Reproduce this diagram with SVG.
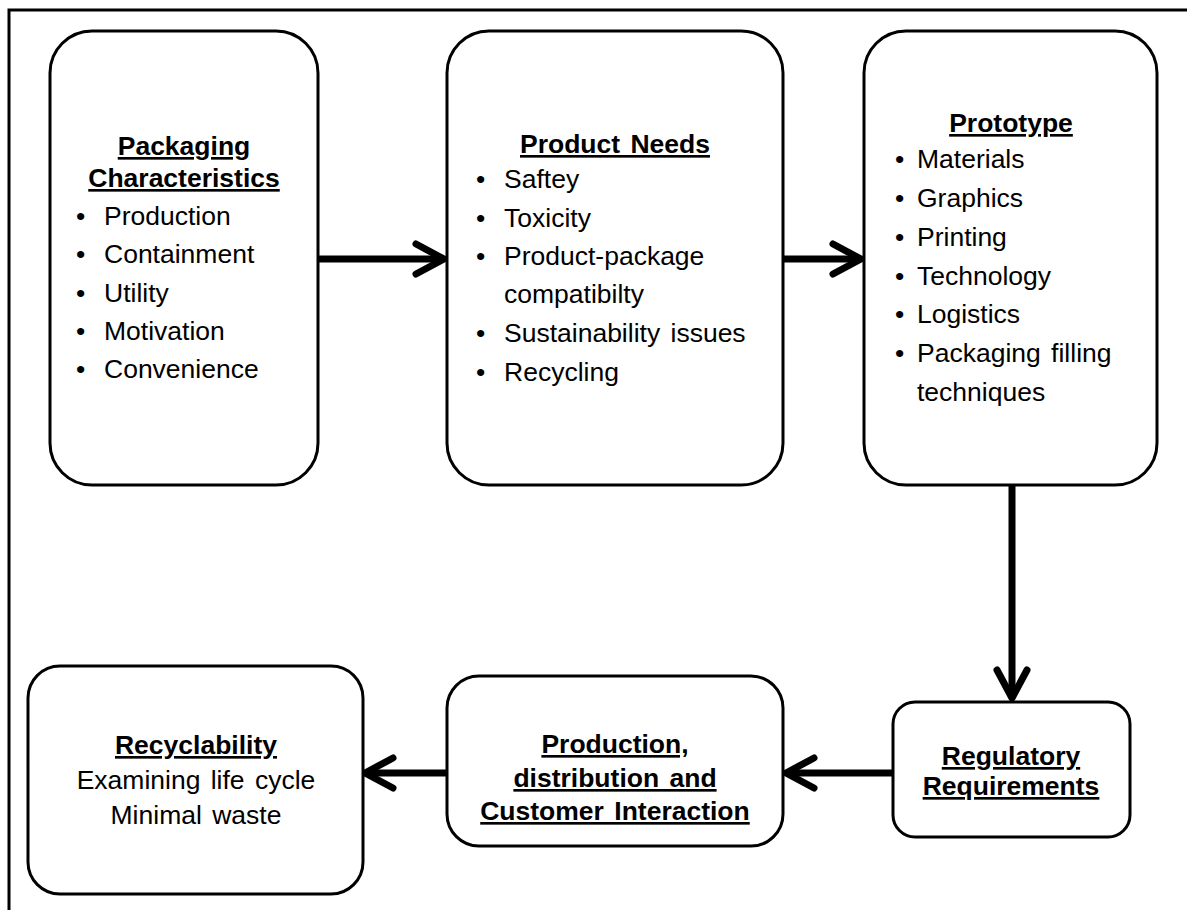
<svg xmlns="http://www.w3.org/2000/svg" width="1187" height="910" viewBox="0 0 1187 910">
  <style>
    .box { fill: #ffffff; stroke: #000000; stroke-width: 3; }
    .t { font-family: "Liberation Sans", Arial, sans-serif; font-size: 26.5px; fill: #000000; word-spacing: 3px; }
    .h { font-weight: bold; text-decoration: underline; text-anchor: middle; }
    .c { text-anchor: middle; }
    .conn { fill: none; stroke: #000000; stroke-width: 7; }
  </style>
  <defs>
    <marker id="chev" markerUnits="userSpaceOnUse" markerWidth="60" markerHeight="60" refX="0" refY="0" viewBox="-40 -30 60 60" orient="auto" overflow="visible">
      <path d="M -28 -15 L 0 0 L -28 15" fill="none" stroke="#000000" stroke-width="7" stroke-linecap="round" stroke-linejoin="round"/>
    </marker>
  </defs>
  <rect x="0" y="0" width="1187" height="910" fill="#ffffff"/>
  <rect id="frame" x="9" y="10" width="1220" height="960" fill="none" stroke="#000000" stroke-width="3"/>

  <g id="connectors">
    <path class="conn" d="M318 259 H444" marker-end="url(#chev)"/>
    <path class="conn" d="M783 259 H861" marker-end="url(#chev)"/>
    <path class="conn" d="M1012 485 V698" marker-end="url(#chev)"/>
    <path class="conn" d="M893 773 H786" marker-end="url(#chev)"/>
    <path class="conn" d="M447 773 H365" marker-end="url(#chev)"/>
  </g>

  <g id="packaging-characteristics">
    <rect class="box" x="50" y="31" width="268" height="454" rx="42"/>
    <text class="t h" x="184" y="155">Packaging</text>
    <text class="t h" x="184" y="187">Characteristics</text>
    <text class="t" x="76" y="225">•</text><text class="t" x="104" y="225">Production</text>
    <text class="t" x="76" y="263">•</text><text class="t" x="104" y="263">Containment</text>
    <text class="t" x="76" y="302">•</text><text class="t" x="104" y="302">Utility</text>
    <text class="t" x="76" y="340">•</text><text class="t" x="104" y="340">Motivation</text>
    <text class="t" x="76" y="378">•</text><text class="t" x="104" y="378">Convenience</text>
  </g>

  <g id="product-needs">
    <rect class="box" x="447" y="31" width="336" height="454" rx="42"/>
    <text class="t h" x="615" y="153">Product Needs</text>
    <text class="t" x="476" y="188">•</text><text class="t" x="504" y="188">Saftey</text>
    <text class="t" x="476" y="227">•</text><text class="t" x="504" y="227">Toxicity</text>
    <text class="t" x="476" y="265">•</text><text class="t" x="504" y="265">Product-package</text>
    <text class="t" x="504" y="303">compatibilty</text>
    <text class="t" x="476" y="342">•</text><text class="t" x="504" y="342">Sustainability issues</text>
    <text class="t" x="476" y="381">•</text><text class="t" x="504" y="381">Recycling</text>
  </g>

  <g id="prototype">
    <rect class="box" x="864" y="31" width="293" height="454" rx="42"/>
    <text class="t h" x="1011" y="132">Prototype</text>
    <text class="t" x="895" y="168">•</text><text class="t" x="917" y="168">Materials</text>
    <text class="t" x="895" y="207">•</text><text class="t" x="917" y="207">Graphics</text>
    <text class="t" x="895" y="246">•</text><text class="t" x="917" y="246">Printing</text>
    <text class="t" x="895" y="285">•</text><text class="t" x="917" y="285">Technology</text>
    <text class="t" x="895" y="323">•</text><text class="t" x="917" y="323">Logistics</text>
    <text class="t" x="895" y="362">•</text><text class="t" x="917" y="362">Packaging filling</text>
    <text class="t" x="917" y="401">techniques</text>
  </g>

  <g id="regulatory-requirements">
    <rect class="box" x="893" y="702" width="237" height="135" rx="22"/>
    <text class="t h" x="1011" y="765">Regulatory</text>
    <text class="t h" x="1011" y="795">Requirements</text>
  </g>

  <g id="production-distribution">
    <rect class="box" x="447" y="676" width="336" height="170" rx="32"/>
    <text class="t h" x="615" y="753">Production,</text>
    <text class="t h" x="615" y="787">distribution and</text>
    <text class="t h" x="615" y="820">Customer Interaction</text>
  </g>

  <g id="recyclability">
    <rect class="box" x="28" y="666" width="335" height="228" rx="32"/>
    <text class="t h" x="196" y="754">Recyclability</text>
    <text class="t c" x="196" y="789">Examining life cycle</text>
    <text class="t c" x="196" y="824">Minimal waste</text>
  </g>
</svg>
